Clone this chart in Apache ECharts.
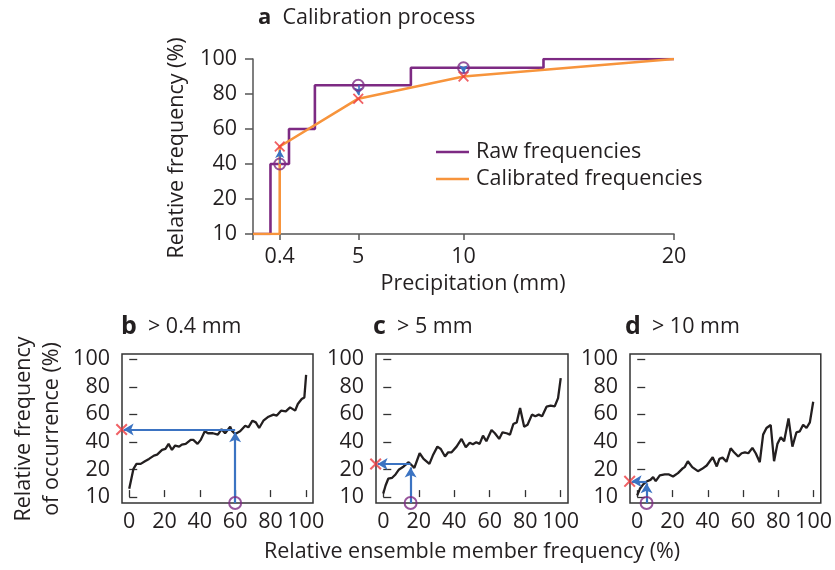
<!DOCTYPE html>
<html>
<head>
<meta charset="utf-8">
<script src="https://cdn.jsdelivr.net/npm/echarts@6/dist/echarts.min.js"></script>
<style>
  html, body { margin: 0; padding: 0; background: #fff; }
  #chart { width: 835px; height: 570px; }
</style>
</head>
<body>
<div id="chart"></div>
<script>
// panel a: x in drawn axis units (the "0.4" tick sits at 1.27)
const aTicks = [0, 1.27, 5, 10, 20];
const aTickLabels = { 1.27: '0.4', 5: '5', 10: '10', 20: '20' };
const rawSteps = [[0, 0], [0.83, 40], [1.71, 60], [2.94, 85], [7.5, 95], [13.8, 100], [20, 100]];
const calibrated = [[0, 0], [1.27, 0], [1.27, 50], [5, 77.3], [10, 90], [20, 100]];
const rawMarks = [[1.27, 40], [5, 85], [10, 95]];
const calMarks = [[1.27, 50], [5, 77.3], [10, 90]];

// panels b-d: relative frequency of occurrence vs ensemble member frequency
const curveB = [[0, 6], [2.4, 20.5], [4.1, 24.1], [6.5, 24.1], [8.9, 26], [11.2, 27.7], [14, 30.1], [15.8, 30.8],
  [18.6, 34.2], [20.5, 34.9], [22.3, 38.6], [24.2, 34.2], [26, 37.4], [28.3, 36.6], [29.8, 38.1], [32, 38.6],
  [34.8, 41.5], [36.3, 41.5], [38.7, 38.6], [40.5, 41.5], [42.8, 47.7], [44.6, 46.3], [47.4, 46.3], [50.2, 45.3],
  [52.3, 49.2], [54.3, 46.3], [56.2, 49.4], [57.2, 51.1], [58.1, 48.2], [60, 45.8], [62.8, 47.7], [65.7, 51.8],
  [67.5, 50.6], [69.8, 55.4], [71.7, 54.2], [73.6, 50.1], [76, 55.4], [78.9, 58.3], [81.7, 59.8], [83.6, 59.1],
  [86, 62.7], [88.7, 62.2], [91.1, 65.1], [94, 62.7], [95.5, 67.5], [97.7, 71.1], [99.2, 72.3], [100.2, 88.7]];
const curveC = [[0, 2.6], [1.3, 8.4], [2.8, 13.3], [5, 14], [6.9, 16.4], [8.7, 19.8], [11.5, 22.2], [14.3, 25.3],
  [16.2, 22.9], [17.5, 21.2], [18.6, 22.2], [20.5, 31.8], [22.7, 27.7], [26, 24.1], [27.9, 30.1], [30.5, 36.6],
  [32.4, 34.9], [34.8, 29.4], [36.6, 32.5], [38.5, 32.5], [41.3, 36.6], [44.1, 42.2], [46.5, 36.1], [48.7, 39.4],
  [50.5, 38.3], [52.4, 39.8], [54.3, 38.6], [56.2, 44.6], [58.1, 40.5], [61, 48.7], [62.9, 46.3], [65.3, 42.2],
  [67.2, 47], [69.5, 46.3], [71.4, 45.3], [73.3, 53], [75.2, 54.2], [77.1, 64.6], [79.4, 51.1], [81.3, 52.5],
  [83.8, 59.8], [85.7, 58.6], [87.6, 59.8], [89.5, 58.6], [92, 65.6], [94.3, 66.3], [96.6, 65.8], [98.5, 71.8],
  [100, 86.3]];
const curveD = [[0, 1.2], [1.5, 6], [3.4, 9.2], [5.3, 11.3], [7.5, 12.5], [9, 14.5], [10.5, 11.6], [12.8, 15.7],
  [15.6, 16.4], [18, 16.4], [20.3, 14.9], [23.1, 17.4], [25.5, 20.5], [26.9, 21.7], [28.7, 26], [31.2, 21.7],
  [34.4, 18.8], [36.8, 20.5], [39.4, 22.9], [42.8, 28.9], [45.1, 22.2], [46.6, 27.7], [48.4, 28.6], [50.6, 25.6],
  [53, 35.4], [54.9, 32.5], [57.3, 29.4], [59.2, 31.8], [61.1, 32.5], [63, 31.8], [65.3, 35.7], [67.2, 31.8],
  [69.5, 25.3], [71.4, 45.3], [73.3, 50.1], [75.7, 52.3], [77.6, 26], [79.5, 38.6], [81.4, 43.4], [83.3, 40.5],
  [85.8, 57.1], [88, 36.6], [90.3, 47], [92.2, 47.7], [94.1, 52.5], [96, 50.1], [97.9, 54.2], [99.8, 69.2]];

// member freq where the threshold is read, observed freq, and where the arrow meets the curve
const lookupB = { x: 60, y: 49, hit: 47 };
const lookupC = { x: 15.4, y: 24, hit: 21.5 };
const lookupD = { x: 5.3, y: 11.4, hit: 10 };
const panelTicks = [0, 20, 40, 60, 80, 100];

const FONT = 'Open Sans';
const FS = 21.5;
const INK = '#231f20';
const PURPLE = '#7d2a83';
const ORANGE = '#f7943c';
const RED = '#ec3a3f';
const BLUE = '#3b73c2';
const CROSS = 'path://M0,1.2L1.2,0L5,3.8L8.8,0L10,1.2L6.2,5L10,8.8L8.8,10L5,6.2L1.2,10L0,8.8L3.8,5Z';

const chart = echarts.init(document.getElementById('chart'));

const arrowLine = (from, to) => [{ coord: from }, { coord: to }];
const hollow = { color: 'transparent', borderColor: PURPLE, borderWidth: 2 };

const panelAxes = (i) => ({
  x: {
    type: 'value', gridIndex: i, min: -4.1, max: 104.1,
    axisLine: { show: false },
    splitLine: { show: false },
    axisTick: { inside: true, length: 7, customValues: panelTicks, lineStyle: { color: '#333', width: 1.3 } },
    axisLabel: { customValues: panelTicks, margin: 8, color: INK, fontSize: FS, fontFamily: FONT }
  },
  y: {
    type: 'value', gridIndex: i, min: -4.3, max: 103.8,
    axisLine: { show: false },
    splitLine: { show: false },
    axisTick: { inside: true, length: 8, customValues: panelTicks, lineStyle: { color: '#333', width: 1.3 } },
    axisLabel: {
      customValues: panelTicks, margin: 12, color: INK, fontSize: FS, fontFamily: FONT,
      formatter: (v) => (v === 0 ? '10' : String(v))
    }
  }
});

const panelSeries = (i, curve, look) => [
  {
    type: 'line', xAxisIndex: i, yAxisIndex: i, data: curve, symbol: 'none',
    lineStyle: { color: INK, width: 2.3 }, z: 3
  },
  {
    type: 'scatter', xAxisIndex: i, yAxisIndex: i, clip: false, z: 5,
    data: [[look.x, -4.3]], symbol: 'circle', symbolSize: 12, itemStyle: hollow,
    markLine: {
      silent: true, symbol: ['none', 'arrow'], symbolSize: [9, 10],
      label: { show: false },
      lineStyle: { color: BLUE, width: 2.2, type: 'solid' },
      data: [arrowLine([look.x, -4.3], [look.x, look.hit]), arrowLine([look.x, look.y], [-3.2, look.y])]
    }
  },
  {
    type: 'scatter', xAxisIndex: i, yAxisIndex: i, clip: false, z: 6,
    data: [[-4.3, look.y]], symbol: CROSS, symbolSize: 12,
    itemStyle: { color: RED }
  }
];

const pa = [panelAxes(1), panelAxes(2), panelAxes(3)];
const boxGrid = { top: 354, width: 192, height: 149, show: true, borderColor: '#333', borderWidth: 1.5 };
const richTitle = (letter, text, left) => ({
  type: 'text', left: left, top: 314,
  style: {
    text: '{b|' + letter + '}  ' + text, fontSize: FS, fontFamily: FONT, fill: INK,
    rich: { b: { fontWeight: 'bold', fontSize: 25, fontFamily: FONT } }
  }
});

const option = {
  animation: false,
  textStyle: { fontFamily: FONT, color: INK },
  grid: [
    { left: 253, top: 59, width: 421, height: 175 },
    { ...boxGrid, left: 122, width: 191 },
    { ...boxGrid, left: 376 },
    { ...boxGrid, left: 630 }
  ],
  xAxis: [
    {
      type: 'value', gridIndex: 0, min: 0, max: 20,
      axisLine: { lineStyle: { color: '#555', width: 1.5 } },
      splitLine: { show: false },
      axisTick: { length: 6, customValues: aTicks, lineStyle: { color: '#555', width: 1.5 } },
      axisLabel: {
        customValues: aTicks.slice(1), margin: 12, color: INK, fontSize: FS,
        formatter: (v) => aTickLabels[v] || ''
      }
    },
    pa[0].x, pa[1].x, pa[2].x
  ],
  yAxis: [
    {
      type: 'value', gridIndex: 0, min: 0, max: 100, interval: 20,
      axisLine: { show: true, lineStyle: { color: '#555', width: 1.5 } },
      splitLine: { show: false },
      axisTick: { show: true, length: 8, lineStyle: { color: '#555', width: 1.5 } },
      axisLabel: { margin: 16, color: INK, fontSize: FS, formatter: (v) => (v === 0 ? '10' : String(v)) }
    },
    pa[0].y, pa[1].y, pa[2].y
  ],
  legend: {
    left: 431, top: 136, orient: 'vertical', icon: 'rect', itemWidth: 33, itemHeight: 2.6, itemGap: 5,
    data: ['Raw frequencies', 'Calibrated frequencies'],
    textStyle: { fontSize: FS, lineHeight: 22, color: INK, fontFamily: FONT, padding: [0, 0, 0, 2] }
  },
  series: [
    {
      name: 'Raw frequencies', type: 'line', step: 'end', data: rawSteps, symbol: 'none',
      lineStyle: { color: PURPLE, width: 2.6 }, itemStyle: { color: PURPLE }, z: 2
    },
    {
      name: 'Calibrated frequencies', type: 'line', data: calibrated, symbol: 'none',
      lineStyle: { color: ORANGE, width: 2.6 }, itemStyle: { color: ORANGE }, z: 3
    },
    {
      type: 'scatter', data: rawMarks, symbol: 'circle', symbolSize: 11, z: 5, itemStyle: hollow,
      markLine: {
        silent: true, symbol: ['none', 'arrow'], symbolSize: [7, 8],
        label: { show: false },
        lineStyle: { color: BLUE, width: 1.6, type: 'solid' },
        data: rawMarks.map((p, k) => arrowLine(p, [calMarks[k][0], calMarks[k][1] + (calMarks[k][1] > p[1] ? -2 : 2)]))
      }
    },
    {
      type: 'scatter', data: calMarks, symbol: CROSS, symbolSize: 11, z: 6,
      itemStyle: { color: RED }
    },
    ...panelSeries(1, curveB, lookupB),
    ...panelSeries(2, curveC, lookupC),
    ...panelSeries(3, curveD, lookupD)
  ],
  graphic: [
    {
      type: 'text', left: 258, top: 7,
      style: {
        text: '{b|a}  Calibration process', fontSize: FS, fontFamily: FONT, fill: INK,
        rich: { b: { fontWeight: 'bold', fontSize: 22, fontFamily: FONT } }
      }
    },
    {
      type: 'text', x: 177, y: 148, rotation: Math.PI / 2,
      style: { text: 'Relative frequency (%)', fontSize: FS, fontFamily: FONT, fill: INK, align: 'center', verticalAlign: 'middle' }
    },
    {
      type: 'text', x: 473, y: 284,
      style: { text: 'Precipitation (mm)', fontSize: FS, fontFamily: FONT, fill: INK, align: 'center', verticalAlign: 'middle' }
    },
    richTitle('b', '> 0.4 mm', 121),
    richTitle('c', '> 5 mm', 373),
    richTitle('d', '> 10 mm', 625),
    {
      type: 'text', x: 38, y: 429, rotation: Math.PI / 2,
      style: { text: 'Relative frequency\nof occurrence (%)', fontSize: FS, lineHeight: 28, fontFamily: FONT, fill: INK, align: 'center', verticalAlign: 'middle' }
    },
    {
      type: 'text', x: 472, y: 552,
      style: { text: 'Relative ensemble member frequency (%)', fontSize: FS, fontFamily: FONT, fill: INK, align: 'center', verticalAlign: 'middle' }
    }
  ]
};

chart.setOption(option);
</script>
</body>
</html>
